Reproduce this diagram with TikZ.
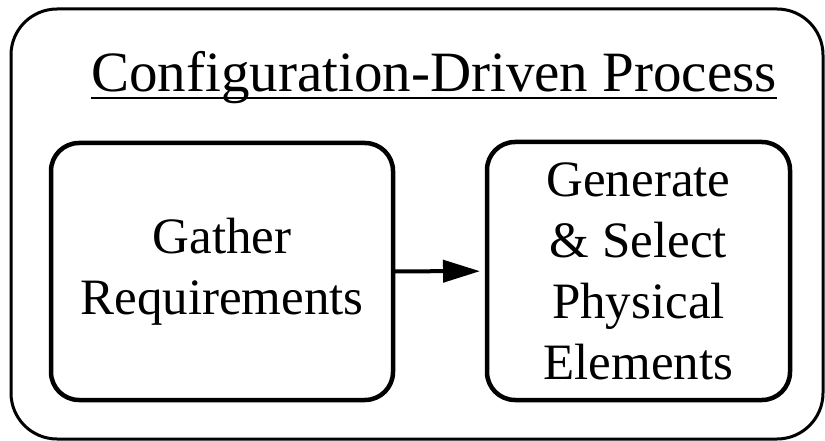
\documentclass[tikz,border=0pt]{standalone}
\usepackage{fontspec}
\setmainfont{Liberation Serif}
\usetikzlibrary{arrows.meta}
\begin{document}
\begin{tikzpicture}[x=1pt,y=-1pt,
  frame/.style={draw,line width=3pt,rounded corners=46pt},
  procbox/.style={draw,line width=4.5pt,rounded corners=28pt,inner sep=0pt,outer sep=0pt,
    align=center,font=\fontsize{51}{61}\selectfont},
  flow/.style={line width=4pt,-{Triangle[length=37pt,width=22pt]}}]
  \useasboundingbox (0,0) rectangle (825,441);
  % enclosing frame
  \draw[frame] (11,9) rectangle (823,439);
  % heading with its rule
  \node[anchor=base,inner sep=0pt,font=\fontsize{57}{60}\selectfont] (title) at (434,92)
    {Configuration-Driven Process};
  \draw[line width=2.5pt] ([yshift=-6pt]title.base west) -- ([yshift=-6pt]title.base east);
  % process steps
  \node[procbox,minimum width=342pt,minimum height=257pt] (gather) at (222,271.5)
    {Gather\\Requirements};
  \node[procbox,minimum width=303pt,minimum height=258pt] (gen) at (638.5,271)
    {Generate\\\& Select\\Physical\\Elements};
  \draw[flow,shorten >=7pt] (gather) -- (gen);
\end{tikzpicture}
\end{document}
